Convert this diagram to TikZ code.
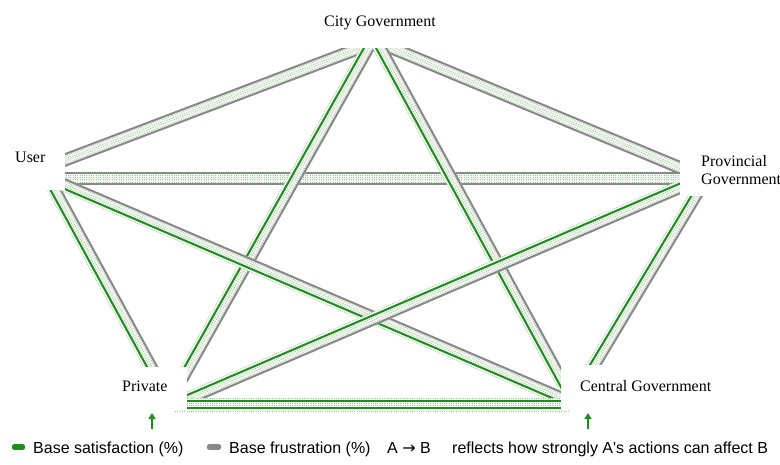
\documentclass[tikz,border=0pt]{standalone}
\usepackage{fontspec}
\setmainfont{Liberation Serif}
\newfontfamily\legendfont{Liberation Sans}
\newfontfamily\arrowfont{DejaVu Sans}
\usetikzlibrary{calc,arrows.meta}
\definecolor{satgreen}{HTML}{1E8C1E}
\definecolor{frugray}{HTML}{888888}
\definecolor{dotcol}{HTML}{A9BFA9}
\definecolor{bandfill}{HTML}{F1F8EF}
\tikzset{
  lanefill/.style={line width=13pt, draw=bandfill},
  lanedot/.style={line width=0.7pt, draw=dotcol, dash pattern=on 0.9pt off 1.4pt},
  lanesolid/.style={line width=2pt},
  nodetext/.style={font=\fontsize{16}{18}\selectfont, inner sep=0pt},
  legendtext/.style={font=\legendfont\fontsize{16}{18}\selectfont, inner sep=0pt, anchor=base west},
  maskbox/.style={fill=white},
  upmark/.style={-{Triangle[length=6pt,width=7pt]}, draw=satgreen, line width=1.8pt},
  legendbar/.style={line width=5.5pt, line cap=round},
}
\newcommand\bandL[4][]{\draw[#1] ($(#2)!#4!90:(#3)$) -- ($(#3)!#4!-90:(#2)$);}
\newcommand\bandR[4][]{\draw[#1] ($(#2)!#4!-90:(#3)$) -- ($(#3)!#4!90:(#2)$);}
\newcommand\sidegray[3]{%
  #1[lanedot]{#2}{#3}{3.5pt}%
  #1[lanesolid, draw=frugray]{#2}{#3}{5.5pt}}
\newcommand\sidegreen[3]{%
  #1[lanedot]{#2}{#3}{6.5pt}%
  #1[lanesolid, draw=satgreen]{#2}{#3}{3.5pt}}
\newcommand\band[4]{%
  \draw[lanefill] (#1) -- (#2);
  \bandL[lanedot]{#1}{#2}{1pt}
  \bandR[lanedot]{#1}{#2}{1pt}
  \csname side#3\endcsname\bandL{#1}{#2}
  \csname side#4\endcsname\bandR{#1}{#2}
}
\begin{document}
\begin{tikzpicture}[x=1pt,y=-1pt]
\useasboundingbox (0,0) rectangle (780,464);
% attachment points
\coordinate (cityU) at (391.6,36);
\coordinate (userC) at (45,167.6);
\coordinate (cityP) at (363.1,36);
\coordinate (provC) at (700,176);
\coordinate (userP) at (45,178.5);
\coordinate (provU) at (700,178.5);
\coordinate (cityV) at (374.7,36);
\coordinate (privC) at (170,400);
\coordinate (cityG) at (373.5,36);
\coordinate (centC) at (572,400);
\coordinate (userV) at (48,178);
\coordinate (privU) at (169,400);
\coordinate (userG) at (55,181);
\coordinate (centU) at (568,401);
\coordinate (provV) at (700,178.7);
\coordinate (privP) at (180,402);
\coordinate (provG) at (705,180);
\coordinate (centP) at (573,400);
\coordinate (privG) at (175,404.5);
\coordinate (centV) at (570,404.5);
% bands
\band{cityU}{userC}{gray}{gray}
\band{cityP}{provC}{gray}{gray}
\band{userP}{provU}{gray}{gray}
\band{cityV}{privC}{gray}{green}
\band{cityG}{centC}{gray}{green}
\band{userV}{privU}{gray}{green}
\band{userG}{centU}{gray}{green}
\band{provV}{privP}{gray}{green}
\band{provG}{centP}{gray}{green}
\band{privG}{centV}{green}{green}
% masks
\fill[maskbox] (318,0) rectangle (442,48);
\fill[maskbox] (0,130) rectangle (65,190);
\fill[maskbox] (680,148) rectangle (780,196);
\fill[maskbox] (113,367) rectangle (187,410);
\fill[maskbox] (561,365) rectangle (720,410);
% nodes
\node[nodetext, anchor=base] (city) at (380,26) {City Government};
\node[nodetext, anchor=base west] (user) at (15,162) {User};
\node[nodetext, anchor=north west, align=left] (prov) at (701,155) {Provincial\\Government};
\node[nodetext, anchor=base west] (priv) at (122,391) {Private};
\node[nodetext, anchor=base west] (cent) at (580,391) {Central Government};
% small arrows
\coordinate (privArrS) at (152,429);
\coordinate (privArrN) at (152,413);
\coordinate (centArrS) at (588,429);
\coordinate (centArrN) at (588,413);
\draw[upmark] (privArrS) -- (privArrN);
\draw[upmark] (centArrS) -- (centArrN);
% legend
\coordinate (lgA1) at (14.5,447);
\coordinate (lgA2) at (22.5,447);
\coordinate (lgB1) at (209.5,447);
\coordinate (lgB2) at (218.5,447);
\draw[legendbar, satgreen] (lgA1) -- (lgA2);
\draw[legendbar, frugray] (lgB1) -- (lgB2);
\node[legendtext] (lsat) at (33,453) {Base satisfaction (\%)};
\node[legendtext] (lfru) at (229,453) {Base frustration (\%)};
\node[legendtext] (lab) at (387,453) {A {\arrowfont→} B};
\node[legendtext] (lref) at (452,453) {reflects how strongly A's actions can affect B};
\end{tikzpicture}
\end{document}
